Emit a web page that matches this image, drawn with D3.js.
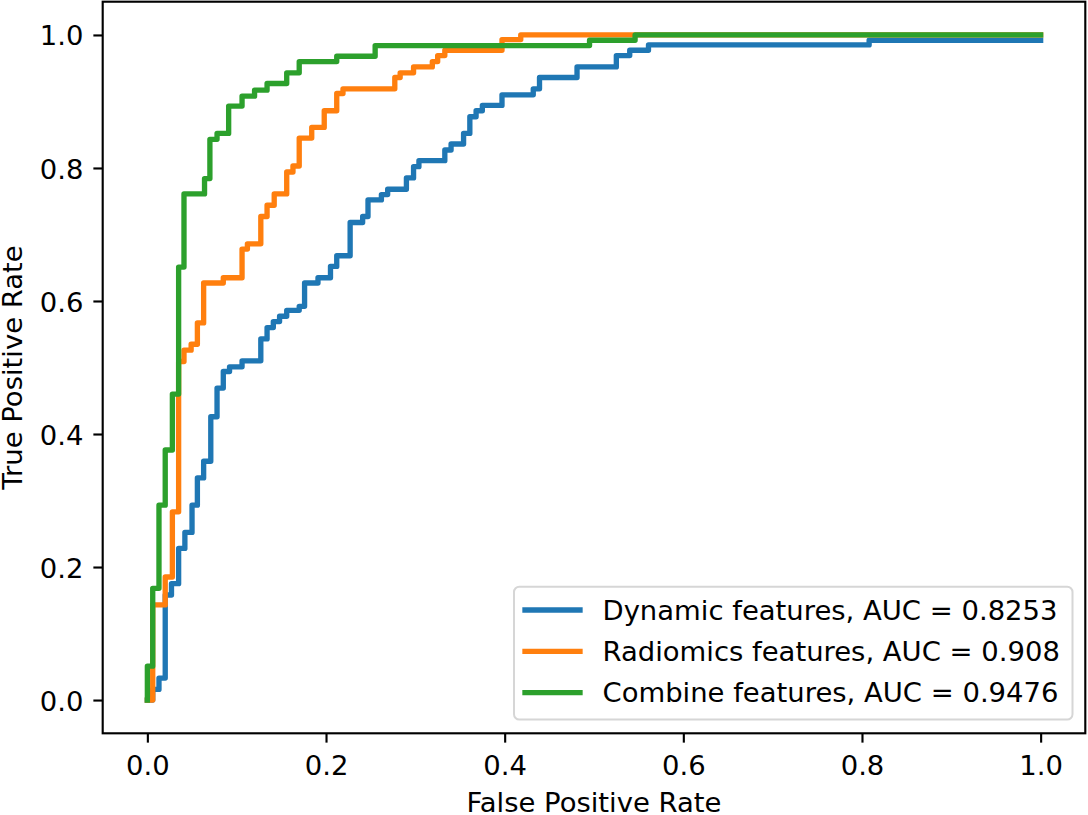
<!DOCTYPE html>
<html>
<head>
<meta charset="utf-8">
<script src="https://cdn.jsdelivr.net/npm/d3@7"></script>
<style>
  html, body { margin: 0; padding: 0; background: #fff; }
  svg { display: block; font-family: "DejaVu Sans", sans-serif; }
</style>
</head>
<body>
<svg id="chart" width="1088" height="815"></svg>
<script>
// ---- data ----
const tickValues = [0.0, 0.2, 0.4, 0.6, 0.8, 1.0];
const seriesNames = [
  "Dynamic features, AUC = 0.8253",
  "Radiomics features, AUC = 0.908",
  "Combine features, AUC = 0.9476"
];
const seriesColors = ["#1f77b4", "#ff7f0e", "#2ca02c"];

const dynamicFpr = [0, 0.006, 0.013, 0.020, 0.027, 0.035, 0.042, 0.050, 0.056, 0.063, 0.071, 0.078, 0.085, 0.092, 0.106, 0.127, 0.134, 0.141, 0.148, 0.156, 0.170, 0.176, 0.191, 0.205, 0.212, 0.227, 0.241, 0.247, 0.262, 0.269, 0.290, 0.298, 0.304, 0.333, 0.340, 0.354, 0.361, 0.368, 0.375, 0.397, 0.432, 0.439, 0.481, 0.525, 0.540, 0.561, 0.808, 1.0];
const dynamicTpr = [0, 0.016, 0.033, 0.158, 0.175, 0.228, 0.252, 0.293, 0.334, 0.359, 0.426, 0.469, 0.494, 0.501, 0.510, 0.543, 0.560, 0.569, 0.577, 0.586, 0.592, 0.627, 0.635, 0.652, 0.668, 0.718, 0.727, 0.752, 0.760, 0.768, 0.785, 0.802, 0.811, 0.827, 0.836, 0.852, 0.877, 0.886, 0.894, 0.910, 0.919, 0.936, 0.952, 0.969, 0.977, 0.985, 0.992, 0.992];

const radiomicsFpr = [0, 0.006, 0.020, 0.028, 0.035, 0.041, 0.049, 0.056, 0.063, 0.085, 0.106, 0.112, 0.127, 0.134, 0.142, 0.156, 0.163, 0.170, 0.184, 0.198, 0.212, 0.219, 0.277, 0.283, 0.298, 0.319, 0.325, 0.333, 0.397, 0.418, 1.0];
const radiomicsTpr = [0, 0.143, 0.185, 0.283, 0.509, 0.526, 0.535, 0.567, 0.627, 0.635, 0.678, 0.686, 0.727, 0.744, 0.761, 0.794, 0.803, 0.845, 0.861, 0.886, 0.912, 0.919, 0.936, 0.943, 0.952, 0.960, 0.969, 0.977, 0.993, 1.0, 1.0];

const combineFpr = [0, 0, 0.006, 0.013, 0.020, 0.028, 0.035, 0.041, 0.064, 0.070, 0.078, 0.091, 0.106, 0.120, 0.134, 0.156, 0.170, 0.212, 0.255, 0.495, 0.546, 1.0];
const combineTpr = [0, 0.051, 0.168, 0.293, 0.376, 0.460, 0.651, 0.761, 0.784, 0.843, 0.852, 0.893, 0.908, 0.917, 0.927, 0.943, 0.960, 0.968, 0.984, 0.992, 1.0, 1.0];

const xLabel = "False Positive Rate";
const yLabel = "True Positive Rate";

// ---- layout ----
const FS = 27.45;
const axL = 102.7, axR = 1085.3, axT = 1.7, axB = 733.3;
const svg = d3.select("#chart");

const x = d3.scaleLinear().domain([-0.05, 1.05]).range([axL, axR]);
const y = d3.scaleLinear().domain([-0.05, 1.05]).range([axB, axT]);

const series = [
  { name: seriesNames[0], color: seriesColors[0], pts: dynamicFpr.map((f, i) => [f, dynamicTpr[i]]) },
  { name: seriesNames[1], color: seriesColors[1], pts: radiomicsFpr.map((f, i) => [f, radiomicsTpr[i]]) },
  { name: seriesNames[2], color: seriesColors[2], pts: combineFpr.map((f, i) => [f, combineTpr[i]]) }
];

const line = d3.line().x(d => x(d[0])).y(d => y(d[1])).curve(d3.curveStepAfter);

svg.append("g").selectAll("path").data(series).join("path")
  .attr("d", d => line(d.pts))
  .attr("fill", "none")
  .attr("stroke", d => d.color)
  .attr("stroke-width", 5.33)
  .attr("stroke-linecap", "square")
  .attr("stroke-linejoin", "round");

// axes
const fmt = d3.format(".1f");
const gx = svg.append("g").attr("transform", `translate(0,${axB})`)
  .call(d3.axisBottom(x).tickValues(tickValues).tickFormat(fmt).tickSize(9.33).tickPadding(12.4));
const gy = svg.append("g").attr("transform", `translate(${axL},0)`)
  .call(d3.axisLeft(y).tickValues(tickValues).tickFormat(fmt).tickSize(9.33).tickPadding(9.9));
[gx, gy].forEach(g => {
  g.select(".domain").remove();
  g.selectAll(".tick line").attr("stroke", "#000").attr("stroke-width", 2.13);
  g.selectAll(".tick text").attr("fill", "#000").style("font-size", FS + "px").style("font-family", "DejaVu Sans");
});
gy.selectAll(".tick text").attr("dy", "0.365em");

// frame
svg.append("rect")
  .attr("x", axL).attr("y", axT)
  .attr("width", axR - axL).attr("height", axB - axT)
  .attr("fill", "none").attr("stroke", "#000").attr("stroke-width", 2.13);

// axis labels
svg.append("text")
  .attr("x", (axL + axR) / 2).attr("y", 812)
  .attr("text-anchor", "middle").style("font-size", FS + "px")
  .text(xLabel);
svg.append("text")
  .attr("transform", `translate(22,${(axT + axB) / 2}) rotate(-90)`)
  .attr("text-anchor", "middle").style("font-size", FS + "px")
  .text(yLabel);

// legend
const lg = svg.append("g");
lg.append("rect")
  .attr("x", 514).attr("y", 586.7)
  .attr("width", 1072.5 - 514).attr("height", 719.5 - 586.7)
  .attr("rx", 5.3).attr("ry", 5.3)
  .attr("fill", "rgba(255,255,255,0.8)")
  .attr("stroke", "#d6d6d6").attr("stroke-width", 2);
const rowY = d3.scaleLinear().domain([0, 2]).range([610, 692.7]);
const rows = lg.selectAll("g.row").data(series).join("g").attr("class", "row")
  .attr("transform", (d, i) => `translate(0,${rowY(i)})`);
rows.append("line")
  .attr("x1", 525).attr("x2", 580)
  .attr("y1", 0).attr("y2", 0)
  .attr("stroke", d => d.color).attr("stroke-width", 5.33)
  .attr("stroke-linecap", "square");
rows.append("text")
  .attr("x", 602.5).attr("y", 9.6)
  .style("font-size", FS + "px")
  .text(d => d.name);
</script>
</body>
</html>
